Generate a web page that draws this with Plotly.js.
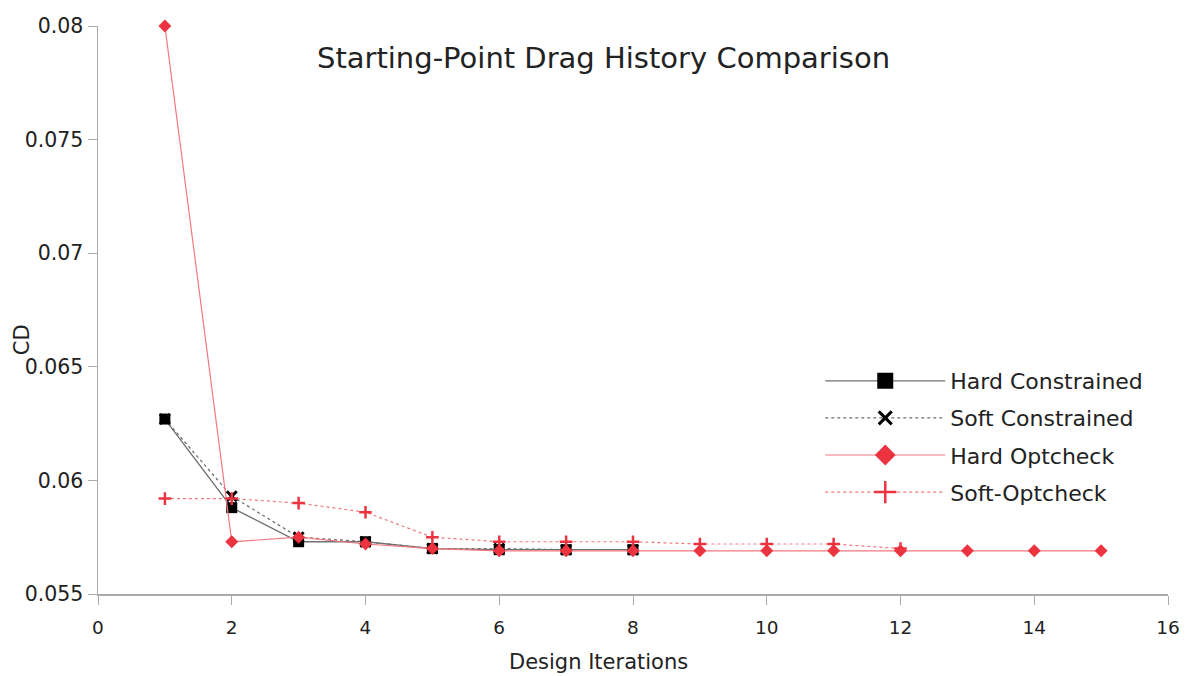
<!DOCTYPE html>
<html>
<head>
<meta charset="utf-8">
<script src="https://cdn.plot.ly/plotly-3.0.1.min.js"></script>
<style>
  html, body { margin: 0; padding: 0; background: #fff; }
  #chart { width: 1188px; height: 676px; }
</style>
</head>
<body>
<div id="chart"></div>
<script>
// Drag coefficient (CD) per design iteration for each starting-point strategy
const hardConstrainedIter = [1, 2, 3, 4, 5, 6, 7, 8];
const hardConstrainedCD = [0.0627, 0.0588, 0.0573, 0.0573, 0.0570, 0.05695, 0.05695, 0.05695];

const softConstrainedIter = [1, 2, 3, 4, 5, 6, 7, 8];
const softConstrainedCD = [0.0627, 0.0593, 0.0575, 0.0573, 0.0570, 0.0570, 0.05695, 0.05695];

const hardOptcheckIter = [1, 2, 3, 4, 5, 6, 7, 8, 9, 10, 11, 12, 13, 14, 15];
const hardOptcheckCD = [0.0800, 0.0573, 0.0575, 0.0572, 0.0570, 0.0569, 0.0569, 0.0569,
                        0.0569, 0.0569, 0.0569, 0.0569, 0.0569, 0.0569, 0.0569];

const softOptcheckIter = [1, 2, 3, 4, 5, 6, 7, 8, 9, 10, 11, 12];
const softOptcheckCD = [0.0592, 0.0592, 0.0590, 0.0586, 0.0575, 0.0573, 0.0573, 0.0573,
                        0.0572, 0.0572, 0.0572, 0.0570];

const seriesNames = ['Hard Constrained', 'Soft Constrained', 'Hard Optcheck', 'Soft-Optcheck'];
const xAxisTitle = 'Design Iterations';
const yAxisTitle = 'CD';

const GREY_LINE = '#707070';
const RED_LINE = '#f27880';
const RED_MARK = '#ec3440';

const styles = [
  { line: { color: GREY_LINE, width: 1.3, dash: 'solid' }, symbol: 'square', mcolor: '#000', size: 11, lsize: 16, mline: 0 },
  { line: { color: GREY_LINE, width: 1.3, dash: '3px,3px' }, symbol: 'x-thin', mcolor: '#000', size: 10, lsize: 13, mline: 3 },
  { line: { color: RED_LINE, width: 1.2, dash: 'solid' }, symbol: 'diamond', mcolor: RED_MARK, size: 10, lsize: 17, mline: 0 },
  { line: { color: RED_LINE, width: 1.2, dash: '3px,3px' }, symbol: 'cross-thin', mcolor: RED_MARK, size: 9, lsize: 16, mline: 2.5 }
];

const xs = [hardConstrainedIter, softConstrainedIter, hardOptcheckIter, softOptcheckIter];
const ys = [hardConstrainedCD, softConstrainedCD, hardOptcheckCD, softOptcheckCD];

const traces = [];
// Data traces
for (let i = 0; i < 4; i++) {
  const s = styles[i];
  traces.push({
    type: 'scatter', mode: 'lines+markers', cliponaxis: false,
    x: xs[i], y: ys[i], name: seriesNames[i], showlegend: false,
    line: s.line,
    marker: { symbol: s.symbol, size: s.size, color: s.mcolor,
              line: { color: s.mcolor, width: s.mline } },
    hoverinfo: 'x+y+name'
  });
}
// Legend entries with larger symbols
for (let i = 0; i < 4; i++) {
  const s = styles[i];
  traces.push({
    type: 'scatter', mode: 'lines+markers',
    x: [null], y: [null], name: seriesNames[i], showlegend: true,
    legendgroup: 'g' + i,
    line: s.line,
    marker: { symbol: s.symbol, size: s.lsize, color: s.mcolor,
              line: { color: s.mcolor, width: s.mline } }
  });
}

const FONT = 'DejaVu Sans, Verdana, sans-serif';
const tickFontY = { family: FONT, size: 20.5, color: '#222' };
const tickFontX = { family: FONT, size: 18.5, color: '#222' };
const titleFont = { family: FONT, size: 21, color: '#222' };

const layout = {
  width: 1188, height: 676,
  paper_bgcolor: '#fff', plot_bgcolor: '#fff',
  margin: { l: 98, r: 20, t: 26, b: 82 },
  title: {
    text: 'Starting-Point Drag History Comparison',
    font: { family: FONT, size: 29, color: '#222' },
    x: 0.508, xanchor: 'center', y: 0.915, yanchor: 'middle'
  },
  xaxis: {
    range: [0, 16], dtick: 2, tick0: 0,
    showgrid: false, zeroline: false,
    showline: true, linecolor: '#aaa', linewidth: 1.5,
    ticks: 'outside', ticklen: 9, tickcolor: '#aaa',
    ticklabelstandoff: 7,
    tickfont: tickFontX
  },
  yaxis: {
    range: [0.055, 0.08], dtick: 0.005, tick0: 0.055,
    showgrid: false, zeroline: false,
    showline: true, linecolor: '#aaa', linewidth: 1.5,
    ticks: 'outside', ticklen: 9, tickcolor: '#aaa',
    tickfont: tickFontY
  },
  annotations: [
    { text: xAxisTitle, xref: 'paper', yref: 'paper', x: 0.468, y: -0.12,
      xanchor: 'center', yanchor: 'middle', showarrow: false, font: titleFont },
    { text: yAxisTitle, xref: 'paper', yref: 'paper', x: -0.071, y: 0.447,
      xanchor: 'center', yanchor: 'middle', textangle: -90, showarrow: false, font: titleFont }
  ],
  legend: {
    x: 0.675, y: 0.412, xanchor: 'left', yanchor: 'top',
    bgcolor: 'rgba(0,0,0,0)',
    font: { family: FONT, size: 22, color: '#222' },
    traceorder: 'grouped', tracegroupgap: 5.5,
    itemwidth: 120
  },
  showlegend: true
};

Plotly.newPlot('chart', traces, layout, { displayModeBar: false, staticPlot: true });
</script>
</body>
</html>
